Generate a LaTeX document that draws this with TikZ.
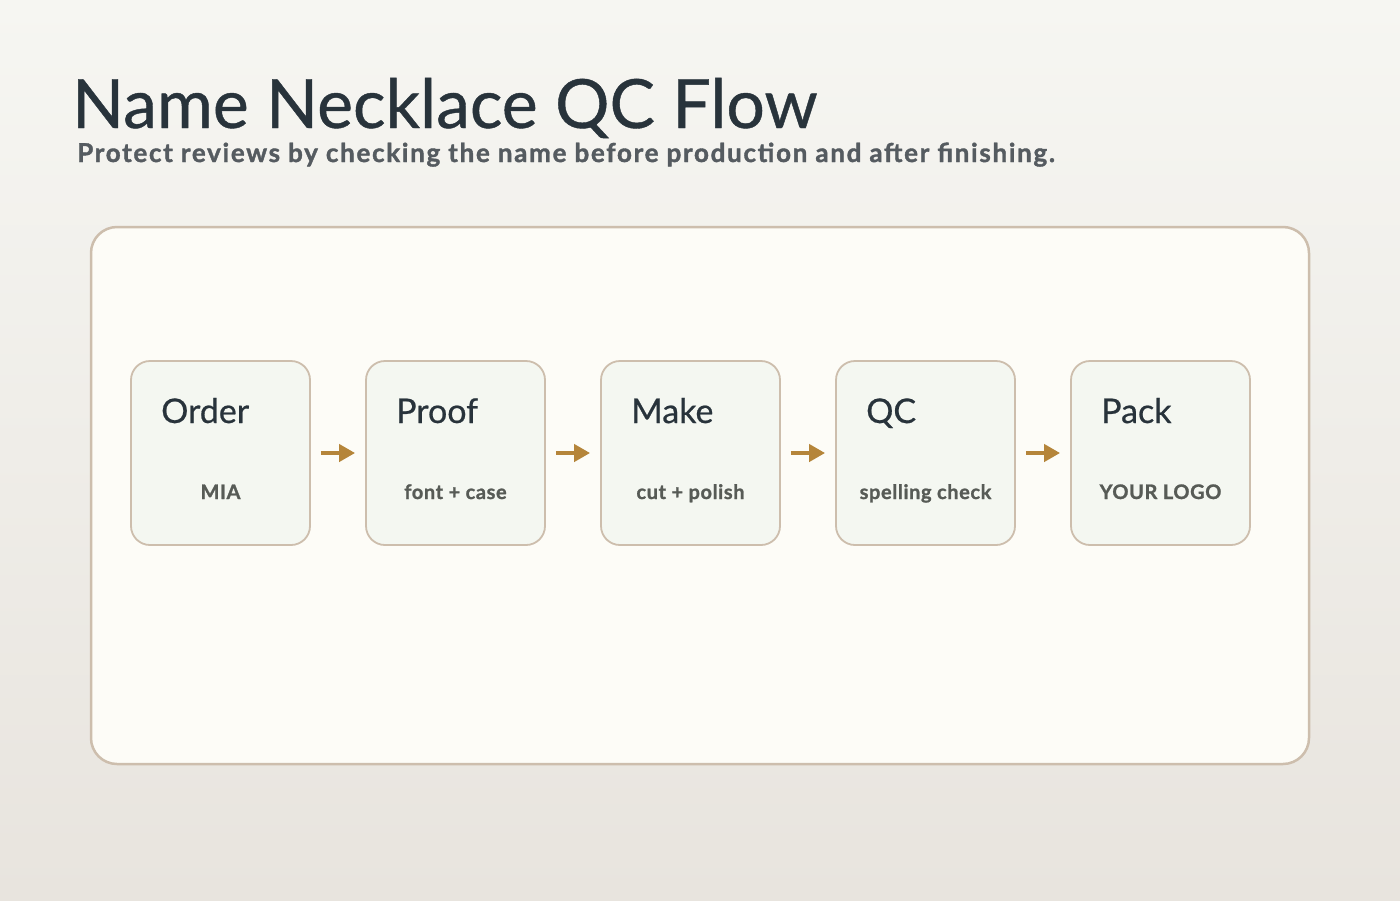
\documentclass[tikz,border=0pt]{standalone}
\usepackage{fontspec}
\setmainfont{Lato}
\newfontfamily\medfont[FakeBold=0.6]{Lato}
\newfontfamily\heavyfont[FakeBold=1.2, LetterSpace=3]{Lato Bold}
\newfontfamily\widefont[FakeBold=1.4, LetterSpace=6.5]{Lato Bold}
\usetikzlibrary{arrows.meta}
\definecolor{bgtop}{HTML}{F6F6F2}
\definecolor{bgbot}{HTML}{E8E4DE}
\definecolor{panelfill}{HTML}{FDFCF7}
\definecolor{edgec}{HTML}{CDBEAD}
\definecolor{boxfill}{HTML}{F4F7F1}
\definecolor{titlec}{HTML}{28333B}
\definecolor{subc}{HTML}{555B60}
\definecolor{smallc}{HTML}{575B56}
\definecolor{arrowc}{HTML}{B5853A}
\tikzset{
  panel/.style={draw=edgec, line width=2.5pt, fill=panelfill, rounded corners=26pt, minimum width=1218pt, minimum height=537pt, inner sep=0pt},
  stepbox/.style={draw=edgec, line width=1.8pt, fill=boxfill, rounded corners=19pt, minimum width=179pt, minimum height=184pt, inner sep=0pt},
  steptitle/.style={anchor=base west, inner sep=0pt, text=titlec, font=\medfont\fontsize{34pt}{38pt}\selectfont},
  stepsub/.style={anchor=base, inner sep=0pt, text=smallc, font=\heavyfont\fontsize{20pt}{23pt}\selectfont},
  flow/.style={draw=arrowc, line width=4pt, -{Triangle[length=16pt,width=17pt]}, shorten <=10pt, shorten >=10pt}
}
\begin{document}
\begin{tikzpicture}[x=1pt,y=-1pt]
\shade[top color=bgtop, bottom color=bgbot] (0,0) rectangle (1400,900);
\useasboundingbox (0,0) rectangle (1400,900);
\node[anchor=base west, inner sep=0pt, text=titlec, font=\medfont\fontsize{68pt}{80pt}\selectfont] (title) at (72,128) {Name Necklace QC Flow};
\node[anchor=base west, inner sep=0pt, text=subc, font=\widefont\fontsize{26pt}{30pt}\selectfont] (subtitle) at (77,162) {Protect reviews by checking the name before production and after finishing.};
\node[panel] (panel) at (700,495.5) {};
\foreach \i/\t/\s in {1/Order/MIA,2/Proof/font + case,3/Make/cut + polish,4/QC/spelling check,5/Pack/YOUR LOGO}{
  \node[stepbox] (b\i) at ({220.5+235*(\i-1)},453) {};
  \node[steptitle] (t\i) at ({161+235*(\i-1)},423) {\t};
  \node[stepsub] (s\i) at ({220.5+235*(\i-1)},499) {\s};
}
\foreach \a/\b in {1/2,2/3,3/4,4/5}{
  \draw[flow] (b\a.east) -- (b\b.west);
}
\end{tikzpicture}
\end{document}
